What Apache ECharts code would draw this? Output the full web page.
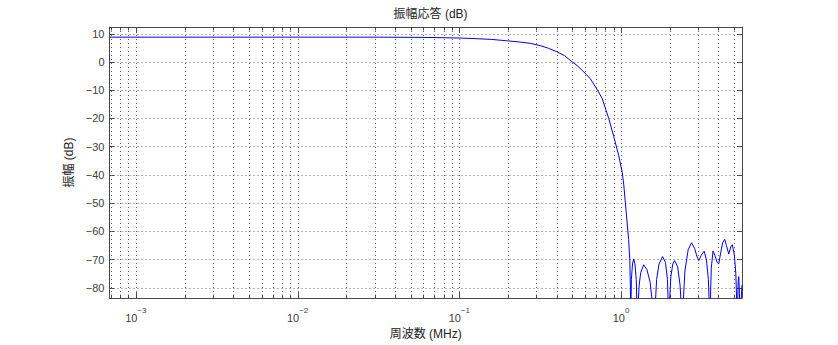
<!DOCTYPE html>
<html><head><meta charset="utf-8">
<script src="https://cdn.jsdelivr.net/npm/echarts@6/dist/echarts.min.js"></script>
<style>html,body{margin:0;padding:0;background:#fff}#c{width:838px;height:345px}</style>
</head><body><div id="c"></div>
<script>
// ---- data (frequency in MHz, magnitude in dB) ----
const freqMHz = [
  0.000687, 0.00316, 0.01, 0.0316, 0.0631, 0.1, 0.1233, 0.1585, 0.1986, 0.2344,
  0.2767, 0.3162, 0.3548, 0.3981, 0.4467, 0.4898, 0.5370, 0.5888, 0.6457, 0.7129,
  0.7656, 0.8395, 0.9016, 0.9683, 1.0163, 1.0399, 1.0789, 1.1143, 1.1324, 1.1429, 1.1482,
  1.1508, 1.1588, 1.1776, 1.1967, 1.2190, 1.2417, 1.2589, 1.2618,
  1.2706, 1.2942, 1.3243, 1.3804, 1.4454, 1.5136, 1.5740, 1.6069,
  1.6218, 1.6596, 1.7179, 1.8072, 1.8836, 1.9364, 1.9634, 1.9679,
  1.9861, 2.0324, 2.0893, 2.1429, 2.2387, 2.3174, 2.3768, 2.3878,
  2.4099, 2.4831, 2.6002, 2.7290, 2.8510, 2.9512, 3.0269, 3.1261, 3.2659, 3.3729, 3.4674, 3.5318, 3.5400,
  3.5563, 3.6141, 3.7068, 3.8019, 3.9355, 4.0179, 4.1210, 4.2462, 4.3752, 4.4875, 4.6345, 4.7643, 4.8753, 5.0119, 5.1286, 5.2240, 5.2360,
  5.2602, 5.3000, 5.3456, 5.4000, 5.4650, 5.5300, 5.5976
];
const magnitudeDb = [
  8.8, 8.8, 8.8, 8.8, 8.7, 8.5, 8.3, 8.0, 7.5, 7.1,
  6.6, 5.8, 4.9, 3.7, 2.3, 0.4, -1.3, -3.5, -5.9, -9.8,
  -13.0, -20.0, -26.4, -33.2, -39.0, -43.5, -53.8, -62.9, -69.7, -80, -100,
  -88, -77, -71.5, -69.7, -71.5, -77, -90, -100,
  -88, -79, -74.5, -71.8, -73.5, -78, -87, -100,
  -88, -77, -71.5, -68.9, -71, -77, -88, -100,
  -87, -76, -71.5, -70.3, -72.5, -79, -90, -100,
  -88, -74, -66.5, -64, -66, -69, -70.3, -68.5, -67, -70, -77, -90, -100,
  -88, -73, -66.9, -68.5, -71, -71.5, -68, -64, -62.8, -65, -68, -65.5, -64.7, -68, -75, -90, -100,
  -86, -78, -76, -82, -100, -84, -79
];
const xDecadeExponents = [-3, -2, -1, 0];
const yTickValues = [-80, -70, -60, -50, -40, -30, -20, -10, 0, 10];
const xRange = [0.000687, 5.5976];
const yRange = [-83.6, 12.4];
const titleText = '振幅応答 (dB)';
const xLabelText = '周波数 (MHz)';
const yLabelText = '振幅 (dB)';

// ---- build option ----
const FONT = '"Liberation Sans", "Noto Sans CJK JP", sans-serif';
const AX = '#4a4a4a';
const GRID = '#666';
const lineData = freqMHz.map((f, i) => [f, magnitudeDb[i]]);
const xMajorValues = xDecadeExponents.map(e => Math.pow(10, e));
const xGridValues = [];
for (let e = xDecadeExponents[0] - 1; e <= xDecadeExponents[xDecadeExponents.length - 1]; e++) {
  for (let k = 1; k <= 9; k++) {
    const v = k * Math.pow(10, e);
    if (v >= xRange[0] && v <= xRange[1]) xGridValues.push([v, yRange[0], k === 1 ? 1 : 0]);
  }
}
const minus = s => String(s).replace('-', '\u2212');

const chart = echarts.init(document.getElementById('c'), null, {renderer: 'svg'});
chart.setOption({
  animation: false,
  backgroundColor: '#fff',
  textStyle: {fontFamily: FONT},
  title: {
    text: titleText, left: 425.6, top: 3, textAlign: 'center',
    textStyle: {fontSize: 12, fontWeight: 'normal', color: '#222', fontFamily: FONT}
  },
  grid: {left: 109.5, right: 96, top: 27, bottom: 38, containLabel: false},
  xAxis: [{
    type: 'log', logBase: 10, min: xRange[0], max: xRange[1],
    name: xLabelText, nameLocation: 'middle', nameGap: 22,
    nameTextStyle: {fontSize: 12, color: '#222', fontFamily: FONT},
    axisLine: {show: true, onZero: false, lineStyle: {color: AX, width: 1}},
    axisTick: {show: false},
    splitLine: {show: false},
    minorTick: {show: false}, minorSplitLine: {show: false},
    axisLabel: {
      customValues: xMajorValues, margin: 8, color: '#404040',
      formatter: v => '{b|10}{s|' + minus(Math.round(Math.log10(v))) + '}',
      rich: {
        b: {fontSize: 11, color: '#404040', fontFamily: FONT, verticalAlign: 'bottom', lineHeight: 17},
        s: {fontSize: 8, color: '#404040', fontFamily: FONT, verticalAlign: 'top', lineHeight: 17, padding: [0, 0, 0, 0]}
      }
    }
  }, {
    type: 'log', logBase: 10, min: xRange[0], max: xRange[1], position: 'top',
    axisLine: {show: true, onZero: false, lineStyle: {color: AX, width: 1}},
    axisTick: {show: false}, axisLabel: {show: false}, splitLine: {show: false}
  }],
  yAxis: [{
    type: 'value', min: yRange[0], max: yRange[1],
    name: yLabelText, nameLocation: 'middle', nameGap: 25,
    nameTextStyle: {fontSize: 12, color: '#222', fontFamily: FONT},
    axisLine: {show: true, onZero: false, lineStyle: {color: AX, width: 1}},
    axisTick: {show: true, inside: true, length: 5, customValues: yTickValues, lineStyle: {color: AX}},
    axisLabel: {customValues: yTickValues, margin: 5, fontSize: 11, color: '#404040', fontFamily: FONT, formatter: v => minus(v)},
    splitLine: {show: true, lineStyle: {color: GRID, width: 1, type: [1, 3]}}
  }, {
    type: 'value', min: yRange[0], max: yRange[1], position: 'right',
    axisLine: {show: true, onZero: false, lineStyle: {color: AX, width: 1}},
    axisTick: {show: true, inside: true, length: 5, customValues: yTickValues, lineStyle: {color: AX}},
    axisLabel: {show: false}, splitLine: {show: false}
  }],
  series: [{
    type: 'custom', xAxisIndex: 0, yAxisIndex: 0, silent: true, z: 1,
    data: xGridValues, encode: {x: 0, y: 1},
    renderItem: function (params, api) {
      const x = Math.round(api.coord([api.value(0), yRange[0]])[0]) + 0.5;
      const cs = params.coordSys;
      const top = cs.y, bot = cs.y + cs.height;
      const tl = api.value(2) ? 6 : 3.5;
      return {type: 'group', children: [
        {type: 'line', shape: {x1: x, y1: top, x2: x, y2: bot}, style: {stroke: GRID, lineWidth: 1, lineDash: [1, 3]}},
        {type: 'line', shape: {x1: x, y1: bot, x2: x, y2: bot - tl}, style: {stroke: AX, lineWidth: 1}},
        {type: 'line', shape: {x1: x, y1: top, x2: x, y2: top + tl}, style: {stroke: AX, lineWidth: 1}}
      ]};
    }
  }, {
    type: 'line', xAxisIndex: 0, yAxisIndex: 0, z: 3,
    data: lineData, showSymbol: false, symbol: 'none', clip: true, smooth: false,
    lineStyle: {color: '#0000e6', width: 1}
  }]
});
</script></body></html>
